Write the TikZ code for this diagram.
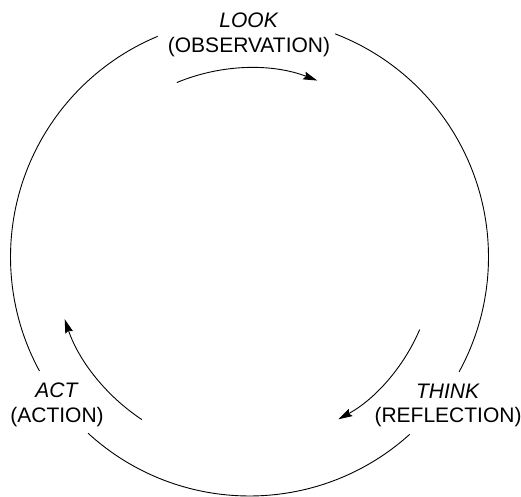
\documentclass[tikz,border=0pt]{standalone}
\usepackage{fontspec}
\setmainfont{Liberation Sans}
\usetikzlibrary{arrows.meta}
\tikzset{
  % outer ring, broken where the stage labels sit
  ring/.style={line width=0.9pt},
  % inner cycle arrow
  cyclearrow/.style={line width=0.9pt, -{Stealth[length=14pt,width=8pt,inset=2pt]}},
  % stage label: italic word over bracketed term
  stagelabel/.style={align=center, inner sep=0pt, font=\fontsize{21}{24.5}\selectfont},
}

\begin{document}
\begin{tikzpicture}[x=1pt,y=1pt]
  \useasboundingbox (0,0) rectangle (521,496);
  \coordinate (O) at (249.5,239);

  % stage labels
  \node[stagelabel] (look)  at (249,461) {\textit{LOOK}\\(OBSERVATION)};
  \node[stagelabel] (think) at (448,90.5) {\textit{THINK}\\(REFLECTION)};
  \node[stagelabel] (act)   at (57,91)   {\textit{ACT}\\(ACTION)};

  % ring segments
  \draw[ring] (O) ++(112.6:239) arc[start angle=112.6, end angle=208.5, radius=239];
  \draw[ring] (O) ++(227.5:239) arc[start angle=227.5, end angle=312.1, radius=239];
  \draw[ring] (O) ++(331.3:239) arc[start angle=331.3, end angle=429, radius=239];

  % cycle arrows
  \draw[cyclearrow] (O) ++(112.6:189) arc[start angle=112.6, end angle=69, radius=189];
  \draw[cyclearrow] (O) ++(-23.1:185) arc[start angle=-23.1, end angle=-61.3, radius=185];
  \draw[cyclearrow] (O) ++(236.5:195) arc[start angle=236.5, end angle=198.6, radius=195];
\end{tikzpicture}
\end{document}
